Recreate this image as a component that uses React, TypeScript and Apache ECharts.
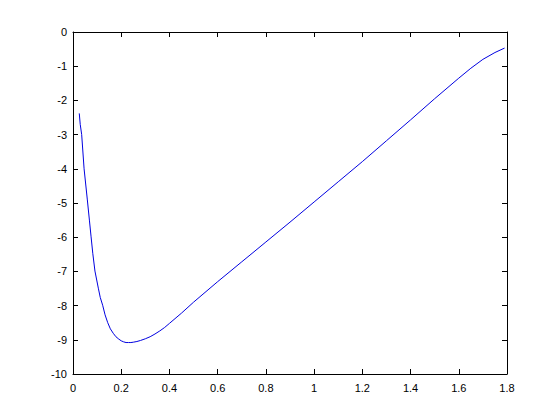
import React, { useEffect, useRef } from "react";
import * as echarts from "echarts";

const xValues = [0.026, 0.03, 0.036, 0.046, 0.0595, 0.068, 0.075, 0.082, 0.091, 0.105, 0.113, 0.123, 0.133, 0.144, 0.155, 0.167, 0.178, 0.19, 0.2, 0.21, 0.22, 0.23, 0.24, 0.25, 0.265, 0.28, 0.3, 0.32, 0.34, 0.36, 0.38, 0.4, 0.45, 0.5, 0.6, 0.7, 0.8, 0.9, 1.0, 1.1, 1.2, 1.3, 1.4, 1.5, 1.6, 1.65, 1.7, 1.75, 1.79];
const yValues = [-2.38, -2.7, -3.0, -4.0, -4.91, -5.5, -5.99, -6.47, -6.99, -7.49, -7.76, -7.99, -8.27, -8.5, -8.68, -8.81, -8.91, -8.98, -9.03, -9.06, -9.08, -9.08, -9.08, -9.07, -9.05, -9.02, -8.97, -8.91, -8.83, -8.74, -8.64, -8.52, -8.22, -7.9, -7.3, -6.72, -6.14, -5.56, -4.97, -4.38, -3.79, -3.18, -2.57, -1.95, -1.35, -1.06, -0.8, -0.6, -0.47];

export default function App() {
  const ref = useRef<HTMLDivElement>(null);
  useEffect(() => {
    if (!ref.current) return;
    const chart = echarts.init(ref.current, null, { renderer: "svg" });
    const font = { color: "#000", fontFamily: "Liberation Sans, Arial, sans-serif", fontSize: 11 };
    const axisLine = { show: true, onZero: false, lineStyle: { color: "#000", width: 1 } };
    const tick = { show: true, inside: true, length: 5, lineStyle: { color: "#000" } };
    chart.setOption({
      animation: false,
      backgroundColor: "#fff",
      grid: { left: 73, right: 53, top: 32, bottom: 46, containLabel: false },
      xAxis: [
        {
          type: "value", min: 0, max: 1.8, interval: 0.2, position: "bottom",
          axisLine, axisTick: tick, splitLine: { show: false },
          axisLabel: { ...font, margin: 8 },
        },
        {
          type: "value", min: 0, max: 1.8, interval: 0.2, position: "top",
          axisLine, axisTick: tick, splitLine: { show: false }, axisLabel: { show: false },
        },
      ],
      yAxis: [
        {
          type: "value", min: -10, max: 0, interval: 1, position: "left",
          axisLine, axisTick: tick, splitLine: { show: false },
          axisLabel: { ...font, margin: 6 },
        },
        {
          type: "value", min: -10, max: 0, interval: 1, position: "right",
          axisLine, axisTick: tick, splitLine: { show: false }, axisLabel: { show: false },
        },
      ],
      series: [
        {
          type: "line",
          data: xValues.map((x, i) => [x, yValues[i]]),
          smooth: false,
          showSymbol: false,
          lineStyle: { color: "#0000e0", width: 1 },
          xAxisIndex: 0,
          yAxisIndex: 0,
        },
      ],
    });
    return () => chart.dispose();
  }, []);
  return <div ref={ref} style={{ width: 560, height: 420, position: "absolute", left: 0, top: 0 }} />;
}
